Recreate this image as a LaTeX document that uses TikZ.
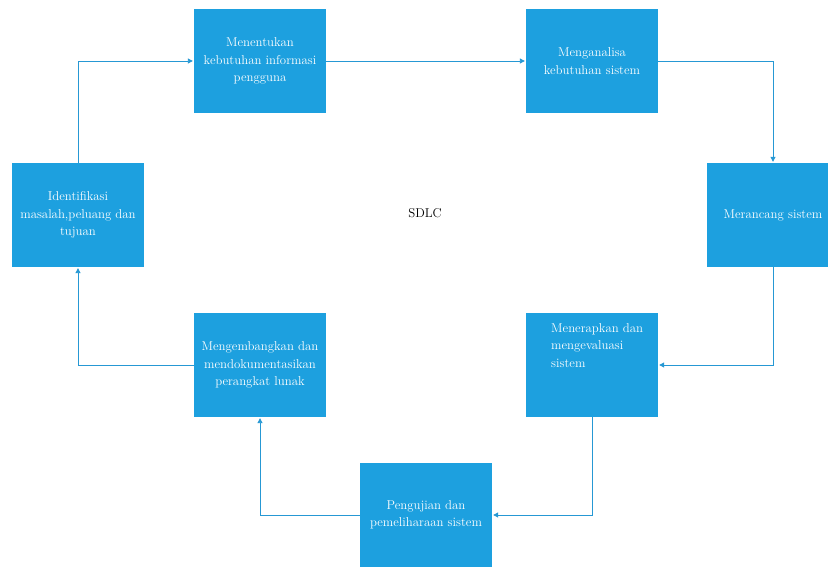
\documentclass[tikz,border=0pt]{standalone}
\usetikzlibrary{arrows.meta}
\definecolor{boxblue}{RGB}{29,160,223}
\definecolor{lineblue}{RGB}{38,152,212}
\begin{document}
\begin{tikzpicture}[x=1pt,y=-1pt,
  box/.style={fill=boxblue, draw=none, minimum width=132pt, minimum height=104pt,
    inner sep=0pt, text=white, align=center, font=\fontsize{12.8}{17.5}\selectfont},
  conn/.style={draw=lineblue, line width=0.9pt, shorten >=1pt,
    -{Triangle[length=5pt,width=5pt]}}]
\clip (0,0) rectangle (828,569);
\fill[white] (0,0) rectangle (828,569);
\node[box] (b1) at (260,61) {Menentukan\\kebutuhan informasi\\pengguna};
\node[box] (b2) at (592,61) {Menganalisa\\kebutuhan sistem};
\node[box] (b3) at (773,215) {Merancang sistem};
\node[box] (b4) at (592,365) {};
\node[text=white, anchor=north west, align=left, inner sep=0pt,
  font=\fontsize{12.8}{17.5}\selectfont] (t4) at (551,323) {Menerapkan dan\\mengevaluasi\\sistem};
\node[box] (b5) at (426,515) {Pengujian dan\\pemeliharaan sistem};
\node[box] (b6) at (260,365) {Mengembangkan dan\\mendokumentasikan\\perangkat lunak};
\node[box] (b7) at (78,215) {Identifikasi\\masalah,peluang dan\\tujuan};
\node[font=\fontsize{12.8}{17}\selectfont] (title) at (425,213) {SDLC};
\draw[conn] (b7.north) |- (b1.west);
\draw[conn] (b1.east) -- (b2.west);
\draw[conn] (b2.east) -| (b3.north);
\draw[conn] (b3.south) |- (b4.east);
\draw[conn] (b4.south) |- (b5.east);
\draw[conn] (b5.west) -| (b6.south);
\draw[conn] (b6.west) -| (b7.south);
\end{tikzpicture}
\end{document}
